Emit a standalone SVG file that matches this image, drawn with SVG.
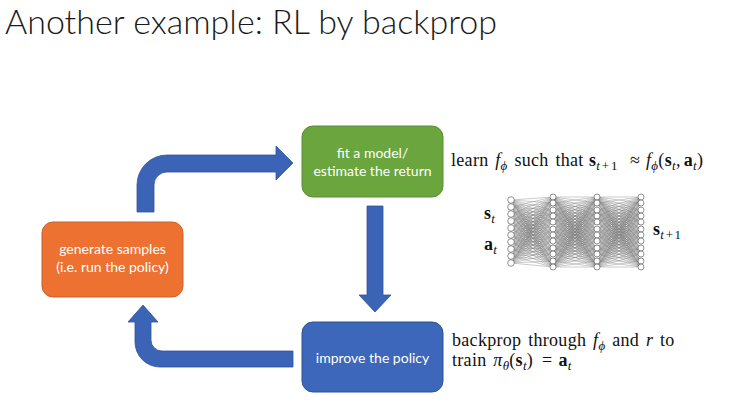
<svg xmlns="http://www.w3.org/2000/svg" xmlns:xlink="http://www.w3.org/1999/xlink" width="730" height="406" viewBox="0 0 730 406">
<style>
.title{font-family:Lato,'Open Sans','Liberation Sans',sans-serif;font-weight:300;font-size:33px;fill:#1a1a1a}
.lbl{font-family:Lato,'Open Sans','Liberation Sans',sans-serif;font-size:14px;fill:#ffffff;text-anchor:middle}
.m{font-family:'Liberation Serif','Times New Roman',serif;font-size:18px;fill:#111111;letter-spacing:0.3px;word-spacing:2px}
.i{font-style:italic}
.b{font-weight:bold}
.s{font-size:13px}
.arrow{fill:#3b63b6;stroke:#30549e;stroke-width:0.8}
.edge{fill:none;stroke:#7a7a7a;stroke-width:0.4;vector-effect:non-scaling-stroke}
.unit{fill:#ffffff;stroke:#555555;stroke-width:0.65}
</style>
<defs>
<path id="fanA" class="edge" d="M0 200L42 197M0 200L42 203M0 200L42 210M0 200L42 216M0 200L42 222M0 200L42 229M0 200L42 235M0 200L42 241M0 200L42 248M0 200L42 254M0 200L42 261M0 200L42 267"/>
<path id="fanB" class="edge" d="M0 197L44 197M0 197L44 203M0 197L44 210M0 197L44 216M0 197L44 222M0 197L44 229M0 197L44 235M0 197L44 241M0 197L44 248M0 197L44 254M0 197L44 261M0 197L44 267"/>
<g id="col">
<circle class="unit" cx="0" cy="197" r="3"/><circle class="unit" cx="0" cy="203" r="3"/><circle class="unit" cx="0" cy="210" r="3"/><circle class="unit" cx="0" cy="216" r="3"/><circle class="unit" cx="0" cy="222" r="3"/><circle class="unit" cx="0" cy="229" r="3"/><circle class="unit" cx="0" cy="235" r="3"/><circle class="unit" cx="0" cy="241" r="3"/><circle class="unit" cx="0" cy="248" r="3"/><circle class="unit" cx="0" cy="254" r="3"/><circle class="unit" cx="0" cy="261" r="3"/><circle class="unit" cx="0" cy="267" r="3"/>
</g>
</defs>
<rect width="730" height="406" fill="#ffffff"/>
<text class="title" x="5" y="34" textLength="492" lengthAdjust="spacingAndGlyphs">Another example: RL by backprop</text>

<g id="connectors">
<path class="arrow" d="M137 212L137 185A30 30 0 0 1 167 155L276 155L276 146L293 163L276 180L276 172L167 172A13 13 0 0 0 154 185L154 212Z"/>
<path class="arrow" d="M367 206L383 206L383 295L391 295L375 312L359 295L367 295Z"/>
<path class="arrow" d="M293 351L162 351A11 11 0 0 1 151 340L151 322L158 322L143 305L128 322L135 322L135 342A25 25 0 0 0 160 367L293 367Z"/>
</g>

<g id="fit-model">
<rect x="302" y="126" width="141" height="71" rx="11" fill="#6aa53e" stroke="#5a8e33" stroke-width="1"/>
<text class="lbl" x="372.5" y="157.5">fit a model/</text>
<text class="lbl" x="372.5" y="176">estimate the return</text>
</g>
<g id="generate-samples">
<rect x="42" y="222" width="141" height="75" rx="11" fill="#ed7130" stroke="#c9612a" stroke-width="1"/>
<text class="lbl" x="112.5" y="254">generate samples</text>
<text class="lbl" x="112.5" y="271.5">(i.e. run the policy)</text>
</g>
<g id="improve-policy">
<rect x="302" y="322" width="141" height="70" rx="11" fill="#3c67bb" stroke="#2f528f" stroke-width="1"/>
<text class="lbl" x="372.5" y="362.5">improve the policy</text>
</g>

<g id="network">
<use xlink:href="#fanA" transform="matrix(1,0,0,1,511,0)"/>
<use xlink:href="#fanA" transform="matrix(1,-0.166667,0,1,511,7)"/>
<use xlink:href="#fanA" transform="matrix(1,-0.333333,0,1,511,14)"/>
<use xlink:href="#fanA" transform="matrix(1,-0.5,0,1,511,21)"/>
<use xlink:href="#fanA" transform="matrix(1,-0.666667,0,1,511,28)"/>
<use xlink:href="#fanA" transform="matrix(1,-0.833333,0,1,511,35)"/>
<use xlink:href="#fanA" transform="matrix(1,-1,0,1,511,42)"/>
<use xlink:href="#fanA" transform="matrix(1,-1.166667,0,1,511,49)"/>
<use xlink:href="#fanA" transform="matrix(1,-1.333333,0,1,511,56)"/>
<use xlink:href="#fanA" transform="matrix(1,-1.5,0,1,511,63)"/>
<use xlink:href="#fanB" transform="matrix(1,0,0,1,553,0)"/>
<use xlink:href="#fanB" transform="matrix(1,-0.136364,0,1,553,6)"/>
<use xlink:href="#fanB" transform="matrix(1,-0.295455,0,1,553,13)"/>
<use xlink:href="#fanB" transform="matrix(1,-0.431818,0,1,553,19)"/>
<use xlink:href="#fanB" transform="matrix(1,-0.568182,0,1,553,25)"/>
<use xlink:href="#fanB" transform="matrix(1,-0.727273,0,1,553,32)"/>
<use xlink:href="#fanB" transform="matrix(1,-0.863636,0,1,553,38)"/>
<use xlink:href="#fanB" transform="matrix(1,-1,0,1,553,44)"/>
<use xlink:href="#fanB" transform="matrix(1,-1.159091,0,1,553,51)"/>
<use xlink:href="#fanB" transform="matrix(1,-1.295455,0,1,553,57)"/>
<use xlink:href="#fanB" transform="matrix(1,-1.454545,0,1,553,64)"/>
<use xlink:href="#fanB" transform="matrix(1,-1.590909,0,1,553,70)"/>
<use xlink:href="#fanB" transform="matrix(1,0,0,1,597,0)"/>
<use xlink:href="#fanB" transform="matrix(1,-0.136364,0,1,597,6)"/>
<use xlink:href="#fanB" transform="matrix(1,-0.295455,0,1,597,13)"/>
<use xlink:href="#fanB" transform="matrix(1,-0.431818,0,1,597,19)"/>
<use xlink:href="#fanB" transform="matrix(1,-0.568182,0,1,597,25)"/>
<use xlink:href="#fanB" transform="matrix(1,-0.727273,0,1,597,32)"/>
<use xlink:href="#fanB" transform="matrix(1,-0.863636,0,1,597,38)"/>
<use xlink:href="#fanB" transform="matrix(1,-1,0,1,597,44)"/>
<use xlink:href="#fanB" transform="matrix(1,-1.159091,0,1,597,51)"/>
<use xlink:href="#fanB" transform="matrix(1,-1.295455,0,1,597,57)"/>
<use xlink:href="#fanB" transform="matrix(1,-1.454545,0,1,597,64)"/>
<use xlink:href="#fanB" transform="matrix(1,-1.590909,0,1,597,70)"/>
<circle class="unit" cx="511" cy="200" r="3.3"/><circle class="unit" cx="511" cy="207" r="3.3"/><circle class="unit" cx="511" cy="214" r="3.3"/><circle class="unit" cx="511" cy="221" r="3.3"/><circle class="unit" cx="511" cy="228" r="3.3"/><circle class="unit" cx="511" cy="235" r="3.3"/><circle class="unit" cx="511" cy="242" r="3.3"/><circle class="unit" cx="511" cy="249" r="3.3"/><circle class="unit" cx="511" cy="256" r="3.3"/><circle class="unit" cx="511" cy="263" r="3.3"/>
<use xlink:href="#col" transform="translate(553,0)"/>
<use xlink:href="#col" transform="translate(597,0)"/>
<use xlink:href="#col" transform="translate(641,0)"/>
<text class="m" x="484" y="219"><tspan class="b">s</tspan><tspan class="s i" y="223">t</tspan></text>
<text class="m" x="484" y="250"><tspan class="b">a</tspan><tspan class="s i" y="254">t</tspan></text>
<text class="m" x="653" y="235"><tspan class="b">s</tspan><tspan class="s i" y="239">t</tspan><tspan class="s" dx="1.5">+</tspan><tspan class="s" dx="1">1</tspan></text>
</g>

<text class="m" y="166"><tspan x="451">learn </tspan><tspan class="i">f</tspan><tspan class="s i" y="170">ϕ</tspan><tspan y="166"> such that</tspan><tspan class="b" x="589">s</tspan><tspan class="s i" y="170">t</tspan><tspan class="s" dx="1.5">+</tspan><tspan class="s" dx="1.5">1</tspan><tspan x="630" y="166">≈</tspan><tspan class="i" x="646">f</tspan><tspan class="s i" y="170">ϕ</tspan><tspan y="166">(</tspan><tspan class="b">s</tspan><tspan class="s i" y="170">t</tspan><tspan y="166">,</tspan><tspan class="b" dx="3">a</tspan><tspan class="s i" y="170">t</tspan><tspan y="166">)</tspan></text>

<text class="m" y="346"><tspan x="452">backprop through </tspan><tspan class="i">f</tspan><tspan class="s i" y="349.5">ϕ</tspan><tspan y="346"> and </tspan><tspan class="i">r</tspan><tspan> to</tspan></text>
<text class="m" y="366"><tspan x="452">train </tspan><tspan class="i">π</tspan><tspan class="s i" y="369.5">θ</tspan><tspan y="366">(</tspan><tspan class="b">s</tspan><tspan class="s i" y="369.5">t</tspan><tspan y="366">) </tspan><tspan dx="2">=</tspan><tspan class="b" dx="6">a</tspan><tspan class="s i" y="369.5">t</tspan></text>
</svg>
